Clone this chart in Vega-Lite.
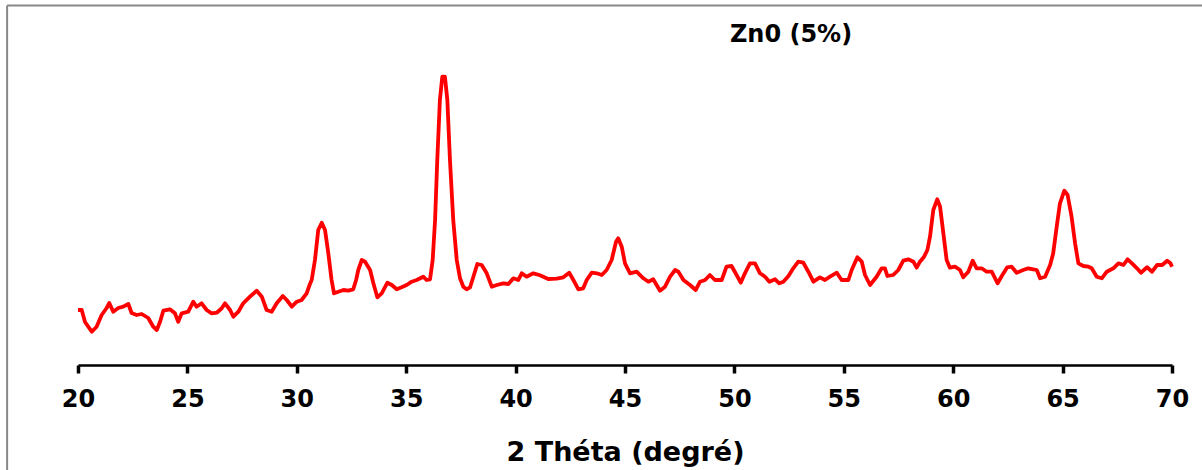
{
  "$schema": "https://vega.github.io/schema/vega-lite/v6.json",
  "width": 1094,
  "height": 305,
  "autosize": {"type": "none"},
  "padding": {"left": 78, "top": 60, "right": 30, "bottom": 105},
  "background": "white",
  "config": {"view": {"stroke": null}},
  "title": {
    "text": "Zn0 (5%)",
    "anchor": "middle",
    "frame": "group",
    "dx": 166,
    "offset": -42,
    "font": "DejaVu Sans",
    "fontSize": 24,
    "fontWeight": "bold",
    "color": "black"
  },
  "layer": [
    {
      "data": {"values": [
        {"t":20.00,"i":60},{"t":20.17,"i":60},{"t":20.32,"i":48},{"t":20.63,"i":38.3},{"t":20.85,"i":43.3},
        {"t":21.08,"i":55},{"t":21.31,"i":62},{"t":21.43,"i":67},{"t":21.61,"i":58.3},{"t":21.84,"i":62},
        {"t":22.07,"i":63.3},{"t":22.30,"i":66},{"t":22.45,"i":57},{"t":22.68,"i":55},{"t":22.91,"i":56},
        {"t":23.21,"i":52},{"t":23.44,"i":43.3},{"t":23.60,"i":40},{"t":23.75,"i":48.3},{"t":23.90,"i":59.3},
        {"t":24.20,"i":60.7},{"t":24.43,"i":56.7},{"t":24.58,"i":48.3},{"t":24.74,"i":56.7},{"t":25.04,"i":58.3},
        {"t":25.27,"i":68.3},{"t":25.42,"i":63.3},{"t":25.65,"i":66.7},{"t":25.88,"i":60},{"t":26.11,"i":56.7},
        {"t":26.34,"i":57.3},{"t":26.57,"i":61.7},{"t":26.72,"i":66.7},{"t":26.95,"i":60},{"t":27.10,"i":53.3},
        {"t":27.33,"i":58.3},{"t":27.55,"i":66.7},{"t":27.86,"i":73.3},{"t":28.17,"i":79.3},{"t":28.40,"i":73.3},
        {"t":28.62,"i":60},{"t":28.85,"i":58.3},{"t":29.08,"i":66.7},{"t":29.36,"i":74},{"t":29.54,"i":70},
        {"t":29.77,"i":63.3},{"t":30.00,"i":68.3},{"t":30.22,"i":70},{"t":30.45,"i":76.7},{"t":30.60,"i":86},
        {"t":30.68,"i":90},{"t":30.83,"i":110},{"t":30.98,"i":140},{"t":31.14,"i":147.3},{"t":31.29,"i":140},
        {"t":31.44,"i":116.7},{"t":31.59,"i":90},{"t":31.70,"i":76.7},{"t":31.90,"i":78.3},{"t":32.13,"i":80},
        {"t":32.35,"i":79.3},{"t":32.58,"i":80.7},{"t":32.71,"i":90},{"t":32.81,"i":100},{"t":32.97,"i":110},
        {"t":33.12,"i":108.3},{"t":33.35,"i":100},{"t":33.50,"i":86.7},{"t":33.68,"i":72.7},{"t":33.88,"i":76.7},
        {"t":34.14,"i":87.3},{"t":34.34,"i":85},{"t":34.57,"i":80.7},{"t":34.79,"i":82.7},{"t":35.02,"i":85},
        {"t":35.25,"i":88.3},{"t":35.48,"i":90},{"t":35.78,"i":93.3},{"t":35.93,"i":90},{"t":36.09,"i":90.7},
        {"t":36.21,"i":110},{"t":36.32,"i":150},{"t":36.42,"i":210},{"t":36.54,"i":270},{"t":36.65,"i":293.3},
        {"t":36.77,"i":293.3},{"t":36.88,"i":270},{"t":37.00,"i":210},{"t":37.15,"i":150},{"t":37.31,"i":110},
        {"t":37.46,"i":91.7},{"t":37.61,"i":83.3},{"t":37.76,"i":80.7},{"t":37.92,"i":82.7},{"t":38.07,"i":93.3},
        {"t":38.25,"i":106},{"t":38.45,"i":105},{"t":38.68,"i":96.7},{"t":38.91,"i":83.3},{"t":39.14,"i":85},
        {"t":39.44,"i":86.7},{"t":39.67,"i":86},{"t":39.90,"i":91.7},{"t":40.12,"i":90},{"t":40.28,"i":96.7},
        {"t":40.50,"i":93.3},{"t":40.81,"i":96.7},{"t":41.08,"i":95},{"t":41.19,"i":94},{"t":41.49,"i":91},
        {"t":41.88,"i":91.3},{"t":42.18,"i":92.7},{"t":42.45,"i":97.3},{"t":42.64,"i":90},{"t":42.87,"i":80.7},
        {"t":43.09,"i":81.7},{"t":43.25,"i":90},{"t":43.48,"i":97.3},{"t":43.71,"i":96.7},{"t":43.94,"i":95},
        {"t":44.16,"i":100},{"t":44.39,"i":110},{"t":44.59,"i":128.3},{"t":44.69,"i":131.7},{"t":44.85,"i":123.3},
        {"t":45.00,"i":106.7},{"t":45.23,"i":96.7},{"t":45.53,"i":98.3},{"t":45.84,"i":91.7},{"t":46.07,"i":88.3},
        {"t":46.29,"i":90.7},{"t":46.60,"i":79.3},{"t":46.83,"i":83.3},{"t":47.06,"i":93.3},{"t":47.29,"i":100},
        {"t":47.44,"i":98.3},{"t":47.67,"i":90},{"t":47.97,"i":85},{"t":48.23,"i":80},{"t":48.43,"i":88.3},
        {"t":48.66,"i":90},{"t":48.88,"i":95},{"t":49.11,"i":90},{"t":49.42,"i":90},{"t":49.64,"i":103.3},
        {"t":49.87,"i":104},{"t":50.10,"i":95},{"t":50.29,"i":87.3},{"t":50.48,"i":96.7},{"t":50.71,"i":106.7},
        {"t":50.94,"i":106.7},{"t":51.17,"i":96.7},{"t":51.40,"i":93.3},{"t":51.60,"i":88.3},{"t":51.86,"i":90.7},
        {"t":52.05,"i":86.7},{"t":52.24,"i":88.3},{"t":52.47,"i":94},{"t":52.69,"i":101.7},{"t":52.92,"i":108.3},
        {"t":53.15,"i":107.3},{"t":53.38,"i":98.3},{"t":53.61,"i":88.3},{"t":53.91,"i":92.7},{"t":54.14,"i":90},
        {"t":54.37,"i":93.3},{"t":54.68,"i":97.3},{"t":54.90,"i":90},{"t":55.21,"i":90},{"t":55.36,"i":100},
        {"t":55.62,"i":112.7},{"t":55.82,"i":108.3},{"t":55.97,"i":95},{"t":56.20,"i":85},{"t":56.50,"i":93.3},
        {"t":56.73,"i":101.7},{"t":56.88,"i":101.7},{"t":56.99,"i":94},{"t":57.26,"i":95},{"t":57.49,"i":100},
        {"t":57.72,"i":109.3},{"t":57.95,"i":110.7},{"t":58.18,"i":108.3},{"t":58.33,"i":102.3},{"t":58.48,"i":108.3},
        {"t":58.67,"i":113.3},{"t":58.82,"i":120},{"t":58.94,"i":133.3},{"t":59.09,"i":160},{"t":59.27,"i":170.7},
        {"t":59.40,"i":163.3},{"t":59.55,"i":136.7},{"t":59.70,"i":110},{"t":59.85,"i":102.3},{"t":60.08,"i":103.3},
        {"t":60.31,"i":100},{"t":60.46,"i":92.7},{"t":60.69,"i":98.3},{"t":60.89,"i":109.3},{"t":61.07,"i":101.7},
        {"t":61.30,"i":101.7},{"t":61.53,"i":98.3},{"t":61.76,"i":98.3},{"t":62.03,"i":86.7},{"t":62.22,"i":94},
        {"t":62.47,"i":102.7},{"t":62.67,"i":103.3},{"t":62.90,"i":97.3},{"t":63.20,"i":100},{"t":63.43,"i":101.7},
        {"t":63.66,"i":100.7},{"t":63.82,"i":100},{"t":63.97,"i":91.7},{"t":64.20,"i":93.3},{"t":64.43,"i":105},
        {"t":64.57,"i":116.7},{"t":64.73,"i":143.3},{"t":64.88,"i":166.7},{"t":65.08,"i":179.3},{"t":65.23,"i":175},
        {"t":65.41,"i":153.3},{"t":65.57,"i":126.7},{"t":65.72,"i":106.7},{"t":65.95,"i":104},{"t":66.18,"i":103.3},
        {"t":66.33,"i":101.7},{"t":66.56,"i":93.3},{"t":66.79,"i":91.7},{"t":67.02,"i":98.3},{"t":67.32,"i":101.7},
        {"t":67.55,"i":106.7},{"t":67.78,"i":105},{"t":67.97,"i":110.7},{"t":68.17,"i":106.7},{"t":68.40,"i":101.7},
        {"t":68.58,"i":97.3},{"t":68.86,"i":102.7},{"t":69.09,"i":98.3},{"t":69.32,"i":105},{"t":69.55,"i":105},
        {"t":69.78,"i":109.3},{"t":69.93,"i":106.7},{"t":70.00,"i":103.3}
      ]},
      "mark": {"type": "line", "color": "#FF0000", "strokeWidth": 3.8, "strokeJoin": "round"},
      "encoding": {
        "x": {
          "field": "t", "type": "quantitative",
          "scale": {"domain": [20, 70], "nice": false, "zero": false},
          "axis": {
            "values": [20, 25, 30, 35, 40, 45, 50, 55, 60, 65, 70],
            "grid": false,
            "domainColor": "black", "domainWidth": 2.5,
            "tickColor": "black", "tickWidth": 3.5, "tickSize": 8,
            "labelFont": "DejaVu Sans", "labelFontWeight": "bold", "labelFontSize": 24,
            "labelColor": "black", "labelPadding": 14, "labelFlush": false,
            "title": "2 Théta (degré)",
            "titleFont": "DejaVu Sans", "titleFontWeight": "bold", "titleFontSize": 27,
            "titleColor": "black", "titlePadding": 28
          }
        },
        "y": {
          "field": "i", "type": "quantitative",
          "scale": {"domain": [5, 310], "nice": false, "zero": false},
          "axis": null
        }
      }
    },
    {
      "data": {"values": [{}]},
      "mark": {"type": "rule", "color": "#888888", "strokeWidth": 2},
      "encoding": {
        "x": {"datum": 16.76, "type": "quantitative", "axis": null},
        "y": {"datum": -150, "type": "quantitative", "axis": null},
        "y2": {"datum": 364.5}
      }
    },
    {
      "data": {"values": [{}]},
      "mark": {"type": "rule", "color": "#888888", "strokeWidth": 2},
      "encoding": {
        "x": {"datum": 16.76, "type": "quantitative", "axis": null},
        "x2": {"datum": 80},
        "y": {"datum": 364.5, "type": "quantitative", "axis": null}
      }
    }
  ],
  "resolve": {"axis": {"x": "independent", "y": "independent"}}
}
